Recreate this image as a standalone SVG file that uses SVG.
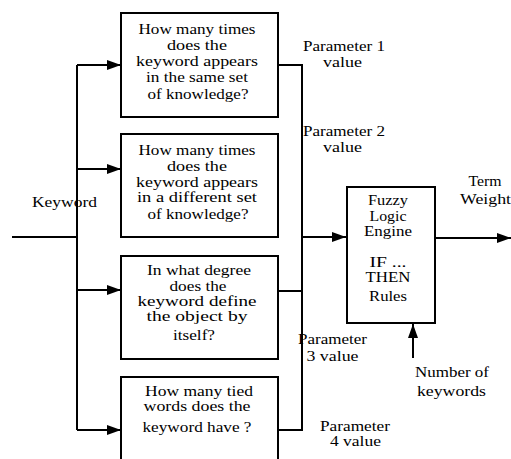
<svg xmlns="http://www.w3.org/2000/svg" width="511" height="459" viewBox="0 0 511 459">
<style>
text{font-family:"Liberation Serif","Times New Roman",serif;font-size:14px;fill:#000;text-anchor:middle}
.box{fill:#fff;stroke:#000;stroke-width:2}
.ln{fill:none;stroke:#000;stroke-width:2}
</style>
<defs>
<marker id="ah" markerWidth="14" markerHeight="10" refX="14" refY="5" orient="auto" markerUnits="userSpaceOnUse">
<path d="M0,0 L14,5 L0,10 Z" fill="#000"/>
</marker>
</defs>
<rect width="511" height="459" fill="#fff"/>
<g id="connectors">
<path class="ln" d="M12,237 H77"/>
<path class="ln" d="M77,65 V430"/>
<path class="ln" d="M77,65 H121" marker-end="url(#ah)"/>
<path class="ln" d="M77,169 H121" marker-end="url(#ah)"/>
<path class="ln" d="M77,290 H121" marker-end="url(#ah)"/>
<path class="ln" d="M77,430 H121" marker-end="url(#ah)"/>
<path class="ln" d="M278,65 H302 V430 H278"/>
<path class="ln" d="M278,291 H302"/>
<path class="ln" d="M302,237 H346" marker-end="url(#ah)"/>
<path class="ln" d="M435,238 H511" marker-end="url(#ah)"/>
<path class="ln" d="M413,358 V324" marker-end="url(#ah)"/>
</g>
<g id="keyword"><text x="64.5" y="207" textLength="65" lengthAdjust="spacingAndGlyphs">Keyword</text></g>
<g id="box1">
<rect class="box" x="121" y="13" width="157" height="104"/>
<text x="197" y="34" textLength="117" lengthAdjust="spacingAndGlyphs">How many times</text>
<text x="197" y="50" textLength="60" lengthAdjust="spacingAndGlyphs">does the</text>
<text x="197" y="66" textLength="122" lengthAdjust="spacingAndGlyphs">keyword appears</text>
<text x="197" y="82" textLength="102" lengthAdjust="spacingAndGlyphs">in the same set</text>
<text x="198" y="99" textLength="101" lengthAdjust="spacingAndGlyphs">of knowledge?</text>
</g>
<g id="box2">
<rect class="box" x="121" y="134" width="157" height="103"/>
<text x="197" y="155" textLength="117" lengthAdjust="spacingAndGlyphs">How many times</text>
<text x="197" y="171" textLength="60" lengthAdjust="spacingAndGlyphs">does the</text>
<text x="197" y="187" textLength="122" lengthAdjust="spacingAndGlyphs">keyword appears</text>
<text x="197" y="202" textLength="120" lengthAdjust="spacingAndGlyphs">in a different set</text>
<text x="198" y="219" textLength="101" lengthAdjust="spacingAndGlyphs">of knowledge?</text>
</g>
<g id="box3">
<rect class="box" x="121" y="256" width="157" height="103"/>
<text x="199" y="275" textLength="104" lengthAdjust="spacingAndGlyphs">In what degree</text>
<text x="198" y="291" textLength="57" lengthAdjust="spacingAndGlyphs">does the</text>
<text x="197" y="306" textLength="119" lengthAdjust="spacingAndGlyphs">keyword define</text>
<text x="197" y="321" textLength="101" lengthAdjust="spacingAndGlyphs">the object by</text>
<text x="194" y="340" textLength="42" lengthAdjust="spacingAndGlyphs">itself?</text>
</g>
<g id="box4">
<rect class="box" x="121" y="377" width="157" height="90"/>
<text x="199" y="396" textLength="108" lengthAdjust="spacingAndGlyphs">How many tied</text>
<text x="197" y="411" textLength="107" lengthAdjust="spacingAndGlyphs">words does the</text>
<text x="197" y="432" textLength="109" lengthAdjust="spacingAndGlyphs">keyword have ?</text>
</g>
<g id="fuzzy">
<rect class="box" x="347" y="187" width="88" height="136"/>
<text x="388" y="205" textLength="40" lengthAdjust="spacingAndGlyphs">Fuzzy</text>
<text x="388" y="221" textLength="37" lengthAdjust="spacingAndGlyphs">Logic</text>
<text x="388" y="236" textLength="48" lengthAdjust="spacingAndGlyphs">Engine</text>
<text x="388" y="267" textLength="37" lengthAdjust="spacingAndGlyphs">IF ...</text>
<text x="388" y="282" textLength="45" lengthAdjust="spacingAndGlyphs">THEN</text>
<text x="388" y="301" textLength="38" lengthAdjust="spacingAndGlyphs">Rules</text>
</g>
<g id="labels">
<text x="344" y="51" textLength="82" lengthAdjust="spacingAndGlyphs">Parameter 1</text>
<text x="342.5" y="67" textLength="39" lengthAdjust="spacingAndGlyphs">value</text>
<text x="344" y="136" textLength="82" lengthAdjust="spacingAndGlyphs">Parameter 2</text>
<text x="342.5" y="152" textLength="39" lengthAdjust="spacingAndGlyphs">value</text>
<text x="485" y="186" textLength="33" lengthAdjust="spacingAndGlyphs">Term</text>
<text x="485.5" y="204" textLength="51" lengthAdjust="spacingAndGlyphs">Weight</text>
<text x="332.5" y="344" textLength="69" lengthAdjust="spacingAndGlyphs">Parameter</text>
<text x="332.5" y="361" textLength="52" lengthAdjust="spacingAndGlyphs">3 value</text>
<text x="452" y="377" textLength="74" lengthAdjust="spacingAndGlyphs">Number of</text>
<text x="451.5" y="396" textLength="69" lengthAdjust="spacingAndGlyphs">keywords</text>
<text x="355" y="431" textLength="70" lengthAdjust="spacingAndGlyphs">Parameter</text>
<text x="355.5" y="446" textLength="51" lengthAdjust="spacingAndGlyphs">4 value</text>
</g>
</svg>
